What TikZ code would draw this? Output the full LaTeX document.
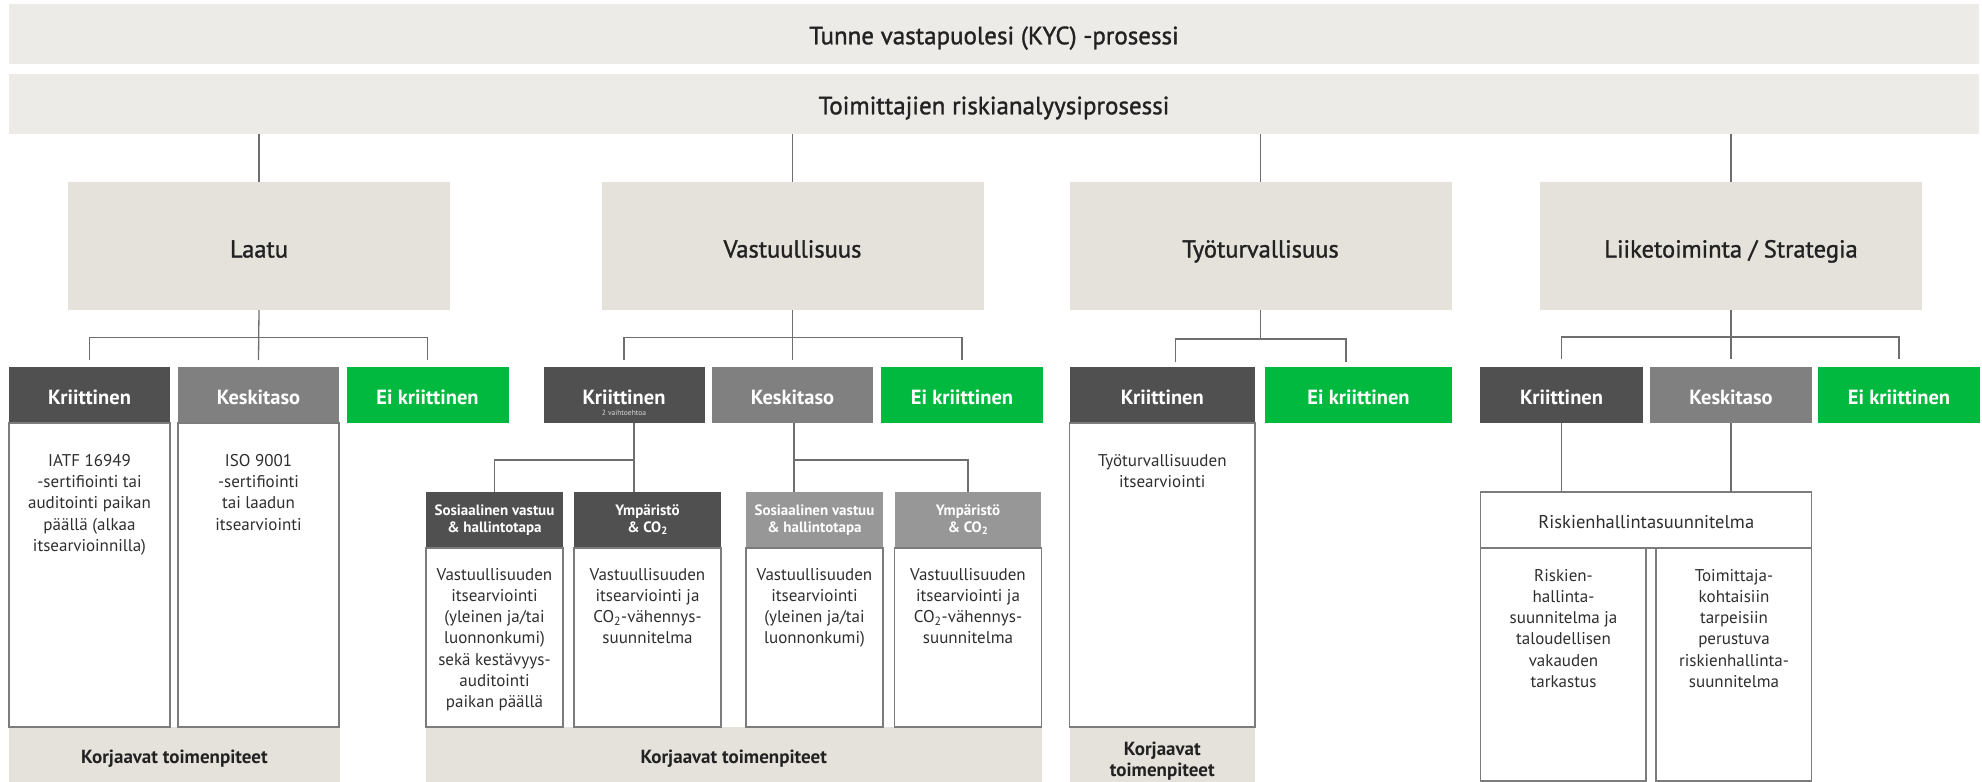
\documentclass[tikz,border=0pt]{standalone}
\usepackage{fontspec}
\setmainfont{PT Sans}
\newfontfamily\medfamily[FakeBold=1.3]{PT Sans}
\usetikzlibrary{positioning}

\definecolor{barfill}{HTML}{EDEBE7}
\definecolor{catfill}{HTML}{E5E2DB}
\definecolor{darklvl}{HTML}{505050}
\definecolor{midlvl}{HTML}{808080}
\definecolor{litelvl}{HTML}{979797}
\definecolor{greenlvl}{HTML}{00B93E}
\definecolor{linegray}{HTML}{6E6E6E}
\definecolor{colline}{HTML}{7C7C7C}
\definecolor{txt}{HTML}{222222}
\definecolor{coltxt}{HTML}{2E2E2E}

\newcommand\fTitle{\fontsize{25}{29}\selectfont\medfamily}
\newcommand\fCat{\fontsize{24.5}{29}\selectfont\medfamily}
\newcommand\fLvl{\fontsize{20.5}{22}\selectfont\bfseries}
\newcommand\fCol{\fontsize{17}{21.3}\selectfont}
\newcommand\fRisk{\fontsize{18.5}{22}\selectfont}
\newcommand\fSub{\fontsize{15}{16.5}\selectfont\bfseries}
\newcommand\fFix{\fontsize{19}{21}\selectfont\bfseries}
\newcommand\fNote{\fontsize{7.5}{9}\selectfont}

\tikzset{
  barbox/.style={fill=barfill, minimum width=1970pt, minimum height=60pt, font=\fTitle, text=txt,
    text height=20.5pt, text depth=0pt},
  catbox/.style={fill=catfill, minimum width=382pt, minimum height=128pt, font=\fCat, text=txt,
    text height=23pt, text depth=0pt},
  lvlbox/.style={minimum width=161pt, minimum height=56pt, font=\fLvl, text=white,
    text height=18pt, text depth=0pt},
  critbox/.style={lvlbox, fill=darklvl},
  midbox/.style={lvlbox, fill=midlvl},
  okbox/.style={lvlbox, fill=greenlvl},
  subhd/.style={minimum height=56pt, font=\fSub, text=white, align=center,
    execute at begin node=\rule{0pt}{17.5pt}},
  fixbox/.style={fill=catfill, minimum height=55pt, font=\fFix, text=txt, align=center},
  coltext/.style={anchor=north, align=center, font=\fCol, text=coltxt},
  colbox/.style={draw=colline, line width=1.2pt},
  link/.style={draw=linegray, line width=1.3pt}
}

\begin{document}
\begin{tikzpicture}[x=1pt, y=-1pt, every node/.style={inner sep=0pt, outer sep=0pt}]
\useasboundingbox (0,0) rectangle (1982,782);

% process bars
\node[barbox] (kyc) at (994,34) {Tunne vastapuolesi (KYC) -prosessi};
\node[barbox] (tra) at (994,104) {Toimittajien riskianalyysiprosessi};

% categories
\node[catbox] (laatu) at (259,246) {Laatu};
\node[catbox] (vast) at (792.5,246) {Vastuullisuus};
\node[catbox] (tyo) at (1260.5,246) {Työturvallisuus};
\node[catbox] (liike) at (1731,246) {Liiketoiminta / Strategia};

\foreach \c in {laatu,vast,tyo,liike}
  \draw[link] (\c.north |- tra.south) -- (\c.north);

% fix boxes
\node[fixbox, minimum width=331pt, text height=17.5pt, text depth=0pt] (lfix) at (174.5,754.5) {Korjaavat toimenpiteet};
\node[fixbox, minimum width=615.5pt, text height=17.5pt, text depth=0pt] (vfix) at (733.75,754.5) {Korjaavat toimenpiteet};
\node[fixbox, minimum width=185.5pt] (tfix) at (1162.3,754.5) {\rule{0pt}{26pt}Korjaavat\\toimenpiteet};

% laatu
\node[critbox] (lk) at (89.5,395) {Kriittinen};
\node[midbox] (lm) at (258.5,395) {Keskitaso};
\node[okbox, minimum width=162pt] (le) at (427.5,395) {Ei kriittinen};
\draw[link] (laatu.south) -- ([yshift=7pt]lm.north);
\draw[link] ([yshift=7pt]lk.north) |- ([yshift=29.5pt]lm.north) -| ([yshift=7pt]le.north);
\draw[colbox] (lk.south west) rectangle (lk.east |- lfix.north);
\draw[colbox] (lm.south west) rectangle (lm.east |- lfix.north);
\node[coltext] (lkt) at (89.5,454) {IATF 16949\\-sertifiointi tai\\auditointi paikan\\päällä (alkaa\\itsearvioinnilla)};
\node[coltext] (lmt) at (258.5,454) {ISO 9001\\-sertifiointi\\tai laadun\\itsearviointi};

% vastuullisuus
\node[critbox] (vk) at (624,395) {Kriittinen};
\node[font=\fNote, text=white!85!black] (vknote) at (624,413) {2 vaihtoehtoa};
\node[midbox] (vm) at (792.5,395) {Keskitaso};
\node[okbox, minimum width=162pt] (ve) at (962,395) {Ei kriittinen};
\draw[link] (vast.south) -- ([yshift=7pt]vm.north);
\draw[link] ([yshift=7pt]vk.north) |- ([yshift=29.5pt]vm.north) -| ([yshift=7pt]ve.north);

\node[subhd, fill=darklvl, minimum width=137pt] (vs1) at (494.5,520) {Sosiaalinen vastuu\\\& hallintotapa};
\node[subhd, fill=darklvl, minimum width=147pt] (vy1) at (647.5,520) {Ympäristö\\\& CO\textsubscript{2}};
\node[subhd, fill=litelvl, minimum width=137pt] (vs2) at (814.5,520) {Sosiaalinen vastuu\\\& hallintotapa};
\node[subhd, fill=litelvl, minimum width=146.5pt] (vy2) at (968,520) {Ympäristö\\\& CO\textsubscript{2}};
\coordinate (vkj) at (634,460);
\coordinate (vmj) at (794,460);
\draw[link] (vkj |- vk.south) -- (vkj |- vy1.north);
\draw[link] (vs1.north) |- (vkj);
\draw[link] (vmj |- vm.south) -- (vmj |- vs2.north);
\draw[link] (vmj) -| (vy2.north);
\foreach \s in {vs1,vy1,vs2,vy2}
  \draw[colbox] (\s.south west) rectangle (\s.east |- vfix.north);
\node[coltext] (vs1t) at (494.5,568) {Vastuullisuuden\\itsearviointi\\(yleinen ja/tai\\luonnonkumi)\\sekä kestävyys-\\auditointi\\paikan päällä};
\node[coltext] (vy1t) at (647.5,568) {Vastuullisuuden\\itsearviointi ja\\CO\textsubscript{2}-vähennys-\\suunnitelma};
\node[coltext] (vs2t) at (814.5,568) {Vastuullisuuden\\itsearviointi\\(yleinen ja/tai\\luonnonkumi)};
\node[coltext] (vy2t) at (968,568) {Vastuullisuuden\\itsearviointi ja\\CO\textsubscript{2}-vähennys-\\suunnitelma};

% tyoturvallisuus
\node[critbox, minimum width=185.5pt] (tk) at (1162.3,395) {Kriittinen};
\node[okbox, minimum width=187pt] (te) at (1358.5,395) {Ei kriittinen};
\coordinate (tj) at (1260.5,339);
\coordinate (tkd) at (1175.5,362);
\coordinate (ted) at (1346,362);
\draw[link] (tyo.south) -- (tj);
\draw[link] (tkd) |- (tj) -| (ted);
\draw[colbox] (tk.south west) rectangle (tk.east |- tfix.north);
\node[coltext] (tkt) at (1162.3,454) {Työturvallisuuden\\itsearviointi};

% liiketoiminta
\node[critbox, minimum width=163pt] (bk) at (1561.5,395) {Kriittinen};
\node[midbox, minimum width=162pt] (bm) at (1731,395) {Keskitaso};
\node[okbox, minimum width=162pt] (be) at (1899,395) {Ei kriittinen};
\draw[link] (liike.south) -- ([yshift=8pt]bm.north);
\draw[link] ([yshift=8pt]bk.north) |- ([yshift=30pt]bm.north) -| ([yshift=8pt]be.north);

\node[draw=colline, line width=1.2pt, fill=white, minimum width=331pt, minimum height=56pt, font=\fRisk, text=coltxt,
  text height=17pt, text depth=0pt] (riski) at (1646.3,520) {Riskienhallintasuunnitelma};
\draw[link] (bk.south) -- (bk.south |- riski.north);
\draw[link] (bm.south) -- (bm.south |- riski.north);
\coordinate (rl) at (1646,781);
\coordinate (rr) at (1656,548);
\draw[colbox] (riski.south west) rectangle (rl);
\draw[colbox] (rr) rectangle (riski.east |- rl);
\node[coltext] (rlt) at (1563.5,569) {Riskien-\\hallinta-\\suunnitelma ja\\taloudellisen\\vakauden\\tarkastus};
\node[coltext] (rrt) at (1734,569) {Toimittaja-\\kohtaisiin\\tarpeisiin\\perustuva\\riskienhallinta-\\suunnitelma};
\end{tikzpicture}
\end{document}
